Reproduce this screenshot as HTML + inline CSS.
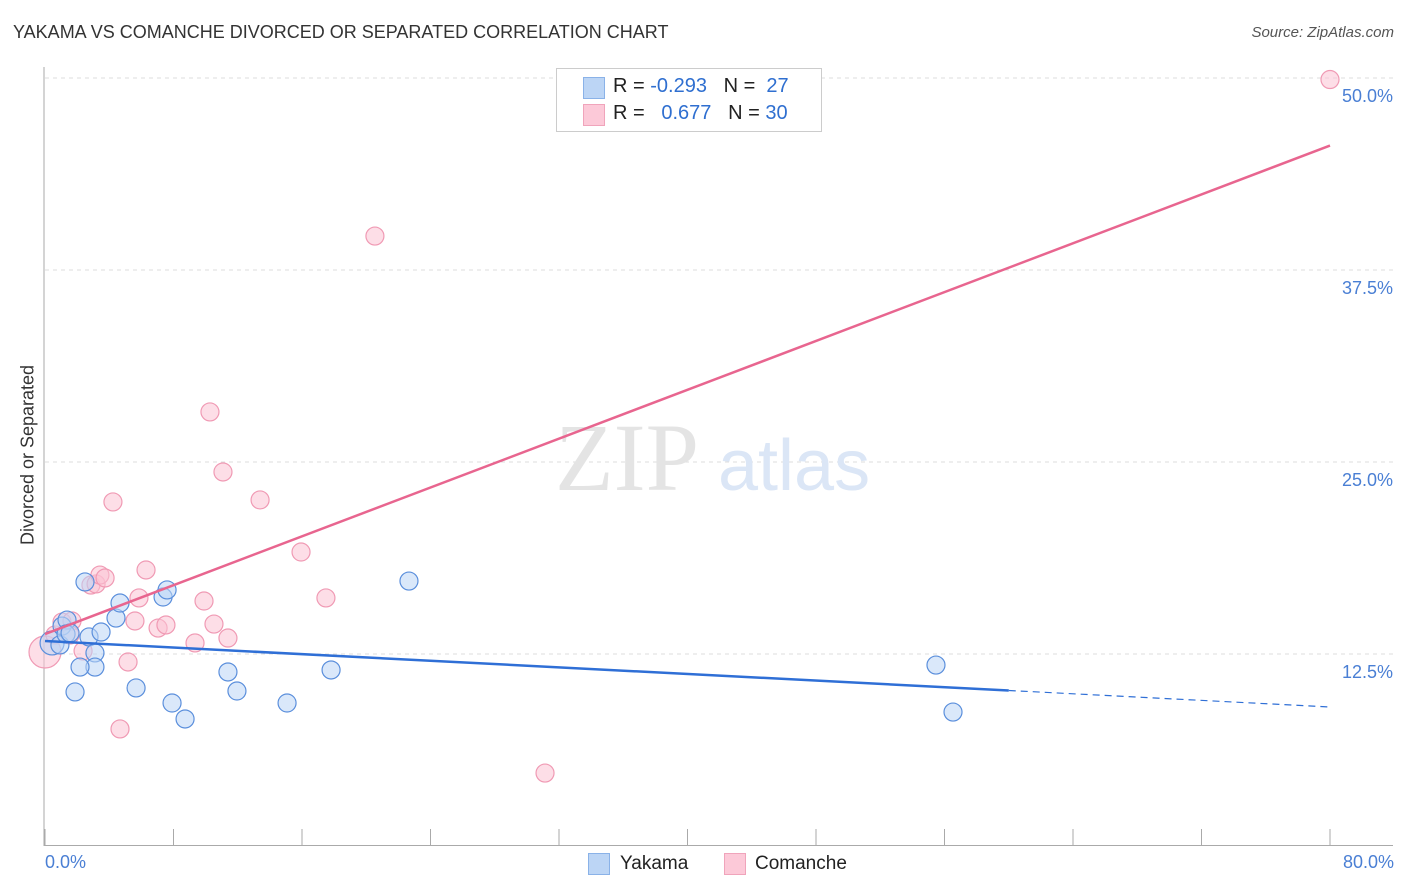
<!DOCTYPE html>
<html><head><meta charset="utf-8"><style>
body{margin:0;background:#fff;font-family:"Liberation Sans",sans-serif;}
#wrap{position:relative;width:1406px;height:892px;overflow:hidden;}
.t{position:absolute;white-space:nowrap;}
</style></head><body>
<div id="wrap">
<div class="t" style="left:13px;top:22px;font-size:18px;color:#333;">YAKAMA VS COMANCHE DIVORCED OR SEPARATED CORRELATION CHART</div>
<div class="t" style="right:12px;top:24px;font-size:15px;color:#555;font-style:italic;">Source: ZipAtlas.com</div>
<svg id="plot" width="1406" height="892" style="position:absolute;left:0;top:0"></svg>
<div style="position:absolute;left:556px;top:68px;width:264px;height:62px;border:1px solid #ccc;background:#fff;">
 <div style="position:absolute;left:26px;top:8px;width:20px;height:20px;background:#bcd5f5;border:1px solid #8ab2e8;"></div>
 <div class="t" style="left:56px;top:6px;font-size:20px;color:#222;">R = <span style="color:#2f6fd0">-0.293</span>&nbsp;&nbsp; N = <span style="color:#2f6fd0">&nbsp;27</span></div>
 <div style="position:absolute;left:26px;top:35px;width:20px;height:20px;background:#fcc9d8;border:1px solid #f0a4bb;"></div>
 <div class="t" style="left:56px;top:33px;font-size:20px;color:#222;">R = &nbsp;&nbsp;<span style="color:#2f6fd0">0.677</span>&nbsp;&nbsp; N = <span style="color:#2f6fd0">30</span></div>
</div>
<div class="t" style="left:28px;top:455px;font-size:18px;color:#333;transform:translate(-50%,-50%) rotate(-90deg);">Divorced or Separated</div>
<div class="t" style="left:45px;top:852px;font-size:18px;color:#4a7fd4;">0.0%</div>
<div class="t" style="right:12px;top:852px;font-size:18px;color:#4a7fd4;">80.0%</div>
<div style="position:absolute;left:588px;top:853px;width:20px;height:20px;background:#bcd5f5;border:1px solid #8ab2e8;"></div>
<div class="t" style="left:620px;top:853px;font-size:19px;color:#222;">Yakama</div>
<div style="position:absolute;left:724px;top:853px;width:20px;height:20px;background:#fcc9d8;border:1px solid #f0a4bb;"></div>
<div class="t" style="left:755px;top:853px;font-size:19px;color:#222;">Comanche</div>
</div>
<script>
const yTicks=[12.5,25,37.5,50];
const yTickLabels=["12.5%","25.0%","37.5%","50.0%"];
const xTickVals=[0,8,16,24,32,40,48,56,64,72,80];
const yakamaX=[0.44,0.93,1.06,1.37,1.31,1.56,2.49,2.74,3.11,3.11,2.18,1.87,3.49,4.42,4.67,5.67,7.35,7.60,7.91,8.72,11.39,11.95,15.07,17.81,22.66,55.47,56.53];
const yakamaY=[13.22,13.09,14.32,14.71,13.80,13.87,17.19,13.61,12.57,11.65,11.65,10.03,13.93,14.84,15.82,10.29,16.21,16.67,9.31,8.27,11.33,10.09,9.31,11.46,17.25,11.78,8.72];
const comancheX=[0.0,0.62,1.06,1.68,1.56,2.37,2.86,3.18,3.42,3.74,4.23,4.67,5.17,5.60,5.85,6.29,7.04,7.53,9.34,9.90,10.27,10.52,11.08,11.39,13.39,15.94,17.49,20.54,31.13,80.0];
const comancheY=[12.63,13.74,14.58,14.65,13.74,12.70,16.99,17.06,17.64,17.45,22.40,7.62,11.98,14.65,16.15,17.97,14.19,14.39,13.22,15.95,28.26,14.45,24.35,13.54,22.53,19.14,16.15,39.71,4.75,49.9];
const yakamaTrend=[13.35,9.05];
const comancheTrend=[13.8,45.6];
const NS="http://www.w3.org/2000/svg";
const svg=document.getElementById('plot');
const X=v=>45+v*16.0625, Y=v=>846-v*15.36;
function mk(tag,attrs){const e=document.createElementNS(NS,tag);for(const k in attrs)e.setAttribute(k,attrs[k]);svg.appendChild(e);return e;}
yTicks.forEach((t,i)=>{
 const g=mk('line',{x1:45,x2:1393,y1:Y(t),y2:Y(t),stroke:'#ddd','stroke-dasharray':'4,4'});
 
 
 const tx=mk('text',{x:1393,y:Y(t)+24,'text-anchor':'end','font-size':18,fill:'#4a7fd4','font-family':'Liberation Sans'});
 tx.textContent=yTickLabels[i];
 
 
});
const ax=mk('line',{x1:44,x2:44,y1:67,y2:846,stroke:'#aaa'});


const bx=mk('line',{x1:44,x2:1393,y1:845.5,y2:845.5,stroke:'#aaa'});


xTickVals.forEach(v=>{
 const l=mk('line',{x1:X(v),x2:X(v),y1:829,y2:846,stroke:'#aaa'});
 
 
});
const wm=mk('text',{x:555,y:490,'font-size':96,fill:'#e4e4e4','font-family':'Liberation Serif'});
wm.textContent='ZIP';


const wm2=mk('text',{x:718,y:490,'font-size':72,fill:'#dbe6f6','font-family':'Liberation Sans'});
wm2.textContent='atlas';


function dots(xs,ys,fill,stroke,name){
 xs.forEach((x,i)=>{
  const r=(i===0&&name==='comanche-point')?16:(i===0?12:9);
  const c=mk('circle',{cx:X(x),cy:Y(ys[i]),r:r,fill:fill,stroke:stroke,'stroke-width':1.2,'fill-opacity':0.55});
  
  
 });
}
dots(comancheX,comancheY,'#fbc3d3','#f09ab4','comanche-point');
dots(yakamaX,yakamaY,'#bcd5f5','#5b8fdc','yakama-point');
const yb=t=>yakamaTrend[0]+(yakamaTrend[1]-yakamaTrend[0])*t/80;
const l1=mk('line',{x1:X(0),y1:Y(yb(0)),x2:X(60),y2:Y(yb(60)),stroke:'#2f6fd6','stroke-width':2.5});


const l2=mk('line',{x1:X(60),y1:Y(yb(60)),x2:X(80),y2:Y(yb(80)),stroke:'#2f6fd6','stroke-width':1.2,'stroke-dasharray':'7,5'});


const l3=mk('line',{x1:X(0),y1:Y(comancheTrend[0]),x2:X(80),y2:Y(comancheTrend[1]),stroke:'#e8658f','stroke-width':2.5});


</script>
</body></html>
